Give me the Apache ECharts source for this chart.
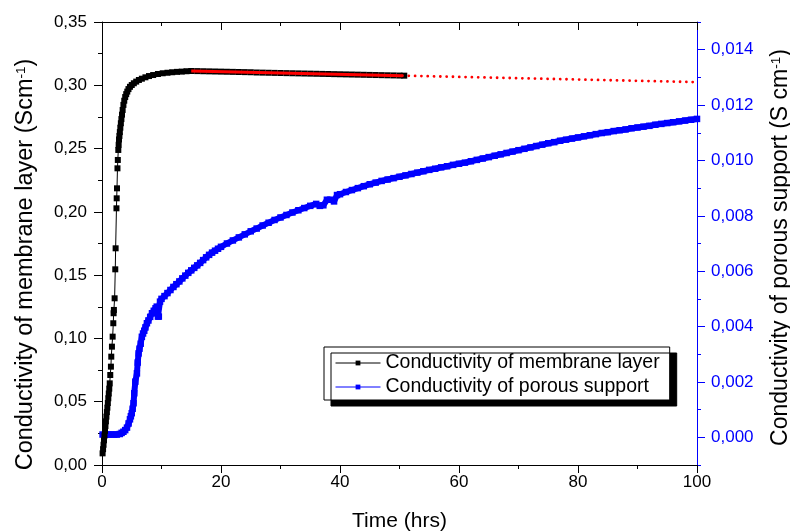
<!DOCTYPE html>
<html><head><meta charset="utf-8">
<script src="https://cdn.jsdelivr.net/npm/echarts@6/dist/echarts.min.js"></script>
<style>html,body{margin:0;padding:0;background:#fff}#c{width:790px;height:531px}</style>
</head><body><div id="c"></div>
<script>
// ---- data ----
const membraneT = [0.10,0.18,0.26,0.34,0.42,0.50,0.58,0.66,0.74,0.82,0.90,0.98,1.06,1.14,1.22,1.30,1.39,
  1.50,1.56,1.67,1.79,1.90,1.95,2.00,2.12,2.23,2.29,2.43,2.47,2.52,2.60,2.66,2.74,
  2.80,2.86,2.93,3.00,3.08,3.17,3.26,3.36,3.47,3.60,3.74,3.90,4.07,4.25,4.45,4.70,5.00,5.35,5.75,6.20,6.70,7.30,7.90,8.60,9.40,10.2,11.0,11.8,12.6,13.4,14.2,15.0,
  16,17,18,19,20,21,22,23,24,25,26,27,28,29,30,31,32,33,34,35,36,37,38,39,40,41,42,43,44,45,46,47,48,49,50,50.8];
const membraneV = [0.0092,0.0125,0.0160,0.0195,0.0232,0.0270,0.0308,0.0345,0.0382,0.0418,0.0453,0.0490,0.0527,0.0565,0.0603,0.0645,0.0711,
  0.0777,0.0856,0.0935,0.1014,0.1120,0.1199,0.1225,0.1317,0.1546,0.1712,0.2028,0.2107,0.2186,0.2344,0.2410,0.2489,
  0.2530,0.2572,0.2600,0.2630,0.2665,0.2700,0.2733,0.2768,0.2805,0.2845,0.2878,0.2907,0.2930,0.2950,0.2970,0.2988,0.3002,0.3016,0.3029,0.3042,0.3052,0.3063,0.3073,0.3081,0.3089,0.3095,0.3099,0.3103,0.3106,0.3108,0.3111,0.3113,
  0.3112,0.3111,0.3110,0.3109,0.3108,0.3107,0.3106,0.3105,0.3104,0.3103,0.3101,0.3100,0.3099,0.3098,0.3097,0.3096,0.3095,0.3094,0.3093,0.3092,0.3091,0.3090,0.3089,0.3088,0.3087,0.3086,0.3085,0.3084,0.3083,0.3082,0.3081,0.3080,0.3079,0.3078,0.3077,0.3076];

const supportT = [0.1,0.5,1.0,1.5,2.0,2.5,3.0,3.3,3.6,3.9,4.2,4.47,4.7,4.85,5.0,5.15,5.3,5.42,5.6,5.87,6.0,6.15,6.3,6.5,6.7,6.9,7.1,7.3,7.55,7.8,8.1,8.4,8.7,9.0,9.2,9.4,9.55,9.75,
  10,10.5,11,11.5,12,12.5,13,13.5,14,14.5,15,15.5,16,16.5,17,17.5,18,18.5,19,19.5,20,
  21,22,23,24,25,26,27,28,29,30,31,32,33,34,35,36,36.6,37.2,37.8,38.4,39,39.5,40,41,42,43,44,45,46,47,48,49,50,
  51,52,53,54,55,56,57,58,59,60,61,62,63,64,65,66,67,68,69,70,71,72,73,74,75,76,77,78,79,80,
  81,82,83,84,85,86,87,88,89,90,91,92,93,94,95,96,97,98,99,100];
const supportV = [0.0001,0.0001,0.0001,0.0001,0.0001,0.0001,0.00012,0.00016,0.0002,0.00026,0.00035,0.0005,0.00065,0.00076,0.00087,0.00103,0.00123,0.00159,0.00201,0.00231,0.0027,0.00303,0.0032,0.00338,0.00363,0.00375,0.00385,0.00397,0.00412,0.00422,0.00435,0.00448,0.00457,0.00466,0.00472,0.00436,0.00436,0.00490,
  0.00500,0.00510,0.00521,0.00532,0.00543,0.00553,0.00563,0.00574,0.00584,0.00594,0.00603,0.00612,0.00621,0.00630,0.00640,0.00650,0.00659,0.00667,0.00674,0.00681,0.00688,
  0.00700,0.00711,0.00722,0.00733,0.00744,0.00754,0.00765,0.00775,0.00785,0.00794,0.00803,0.00812,0.00820,0.00828,0.00836,0.00843,0.00836,0.00838,0.00858,0.00858,0.00852,0.00875,0.00878,0.00886,0.00893,0.00900,0.00907,0.00914,0.00920,0.00926,0.00931,0.00936,0.00941,
  0.00946,0.00951,0.00956,0.00961,0.00966,0.00970,0.00975,0.00979,0.00984,0.00988,0.00992,0.00997,0.01002,0.01007,0.01012,0.01017,0.01022,0.01027,0.01032,0.01037,0.01042,0.01047,0.01052,0.01057,0.01062,0.01066,0.01071,0.01075,0.01079,0.01083,
  0.01087,0.01091,0.01095,0.01099,0.01102,0.01106,0.01109,0.01112,0.01116,0.01119,0.01122,0.01125,0.01129,0.01132,0.01135,0.01138,0.01141,0.01144,0.01147,0.01150];

const fitT = [15.0, 50.5];
const fitV = [0.3113, 0.3076];
const extrapT = [50.5, 100];
const extrapV = [0.3076, 0.3025];

const rightTickValues = [0,0.002,0.004,0.006,0.008,0.010,0.012,0.014];
const membraneName = 'Conductivity of membrane layer';
const supportName = 'Conductivity of porous support';

// ---- chart ----
const FONT = '"Liberation Sans", Arial, sans-serif';
const zip = (a, b) => a.map((x, i) => [x, b[i]]);
const chart = echarts.init(document.getElementById('c'), null, {renderer: 'canvas'});
const blk = '#000000', blu = '#0000ff';

chart.setOption({
  animation: false,
  backgroundColor: '#ffffff',
  grid: {left: 102, right: 93, top: 22, bottom: 66, containLabel: false, outerBoundsMode: 'none'},
  legend: {
    data: [membraneName, supportName],
    orient: 'vertical', left: 324, top: 347,
    padding: [6, 10, 3, 11],
    itemWidth: 45, itemHeight: 6, itemGap: 4,
    textStyle: {fontFamily: FONT, fontSize: 19.5, color: '#000'},
    backgroundColor: '#fff', borderColor: '#000', borderWidth: 1, borderRadius: 0,
    shadowColor: '#000', shadowBlur: 0, shadowOffsetX: 7, shadowOffsetY: 6,
    lineStyle: {width: 1},
    selectedMode: false
  },
  xAxis: [
    {type: 'value', position: 'bottom', min: 0, max: 100, interval: 20,
     axisLine: {show: true, onZero: false, lineStyle: {color: blk, width: 1}},
     axisTick: {show: true, length: 8, lineStyle: {color: blk}},
     minorTick: {show: true, splitNumber: 2, length: 4, lineStyle: {color: blk}},
     splitLine: {show: false}, minorSplitLine: {show: false},
     axisLabel: {fontFamily: FONT, fontSize: 17, color: '#000', margin: 9},
     name: 'Time (hrs)', nameLocation: 'middle', nameGap: 46, nameMoveOverlap: false,
     nameTextStyle: {fontFamily: FONT, fontSize: 21, color: '#000'}},
    {type: 'value', position: 'top', min: 0, max: 100, interval: 20,
     axisLine: {show: true, onZero: false, lineStyle: {color: blk, width: 1}},
     axisTick: {show: true, inside: true, length: 8, lineStyle: {color: blk}},
     minorTick: {show: true, splitNumber: 2, length: 4, lineStyle: {color: blk}},
     splitLine: {show: false}, axisLabel: {show: false}}
  ],
  yAxis: [
    {type: 'value', position: 'left', min: 0, max: 0.35, interval: 0.05,
     axisLine: {show: true, onZero: false, lineStyle: {color: blk, width: 1}},
     axisTick: {show: true, length: 8, lineStyle: {color: blk}},
     minorTick: {show: true, splitNumber: 2, length: 4, lineStyle: {color: blk}},
     splitLine: {show: false}, minorSplitLine: {show: false},
     axisLabel: {fontFamily: FONT, fontSize: 17, color: '#000', margin: 15,
                 formatter: v => v.toFixed(2).replace('.', ',')},
     name: '{a|Conductivity of membrane layer (Scm}{s|-1}{a|)}',
     nameLocation: 'middle', nameRotate: 90, nameGap: 64, nameMoveOverlap: false,
     nameTextStyle: {fontFamily: FONT, fontSize: 23.5, color: '#000', padding: [0, 42, 0, 0],
       rich: {a: {fontFamily: FONT, fontSize: 23.5, color: '#000'},
              s: {fontFamily: FONT, fontSize: 13.5, color: '#000', verticalAlign: 'top'}}}},
    {type: 'value', position: 'right', min: -0.001, max: 0.015, interval: 0.002,
     axisLine: {show: true, onZero: false, lineStyle: {color: blu, width: 1}},
     axisTick: {show: true, length: 4, lineStyle: {color: blu}},
     minorTick: {show: true, splitNumber: 2, length: 8, lineStyle: {color: blu}},
     splitLine: {show: false}, minorSplitLine: {show: false},
     axisLabel: {customValues: rightTickValues, fontFamily: FONT, fontSize: 17, color: blu, margin: 14,
                 formatter: v => v.toFixed(3).replace('.', ',')},
     name: '{a|Conductivity of porous support (S cm}{s|-1}{a|)}',
     nameLocation: 'middle', nameRotate: 90, nameGap: 72, nameMoveOverlap: false,
     nameTextStyle: {fontFamily: FONT, fontSize: 23, color: '#000', padding: [0, 8, 0, 0],
       rich: {a: {fontFamily: FONT, fontSize: 23, color: '#000'},
              s: {fontFamily: FONT, fontSize: 13.5, color: '#000', verticalAlign: 'top'}}}}
  ],
  series: [
    {name: supportName, type: 'line', xAxisIndex: 0, yAxisIndex: 1,
     data: zip(supportT, supportV), symbol: 'rect', symbolSize: 6.5, showSymbol: true,
     lineStyle: {color: blu, width: 6}, itemStyle: {color: blu}, silent: true, z: 2},
    {name: membraneName, type: 'line', xAxisIndex: 0, yAxisIndex: 0,
     data: zip(membraneT, membraneV), symbol: 'rect', symbolSize: 6, showSymbol: true,
     lineStyle: {color: blk, width: 1}, itemStyle: {color: blk}, silent: true, z: 3},
    {name: 'fit', type: 'line', xAxisIndex: 0, yAxisIndex: 0,
     data: zip(fitT, fitV), symbol: 'none',
     lineStyle: {color: '#ff0000', width: 3}, silent: true, z: 4},
    {name: 'extrapolation', type: 'line', xAxisIndex: 0, yAxisIndex: 0,
     data: zip(extrapT, extrapV), symbol: 'none',
     lineStyle: {color: '#ff0000', width: 2.8, type: [0.01, 6.3], cap: 'round'}, silent: true, z: 4}
  ]
});
</script>
</body></html>
